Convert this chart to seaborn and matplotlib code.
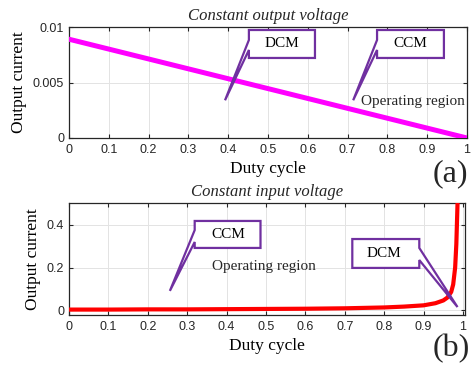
import numpy as np
import pandas as pd
import matplotlib
matplotlib.use("Agg")
import matplotlib.pyplot as plt
from matplotlib.patches import Polygon
import seaborn as sns

# ---------------- data ----------------
duty_a = [0.0, 1.0]
current_a = [0.0089, 0.0]

duty_b = [0.0, 0.1, 0.2, 0.3, 0.4, 0.5, 0.6, 0.7, 0.8, 0.85, 0.9, 0.93,
          0.95, 0.96, 0.97, 0.975, 0.98, 0.983, 0.986, 0.99]
current_b = [0.002, 0.002, 0.003, 0.003, 0.004, 0.005, 0.006, 0.008, 0.012,
             0.016, 0.022, 0.032, 0.045, 0.058, 0.085, 0.12, 0.2, 0.31, 0.5, 0.8]

x_ticks = [0, 0.1, 0.2, 0.3, 0.4, 0.5, 0.6, 0.7, 0.8, 0.9, 1]
x_ticklabels = ["0", "0.1", "0.2", "0.3", "0.4", "0.5", "0.6", "0.7", "0.8", "0.9", "1"]
ya_ticks = [0, 0.005, 0.01]
ya_ticklabels = ["0", "0.005", "0.01"]
yb_ticks = [0, 0.2, 0.4]
yb_ticklabels = ["0", "0.2", "0.4"]

# ---------------- style ----------------
sns.set_theme(style="ticks")
plt.rcParams["font.family"] = ["Liberation Sans", "DejaVu Sans"]
SERIF = ["Liberation Serif", "DejaVu Serif"]
TICKC = "#262626"
PURPLE = "#7030A0"

fig = plt.figure(figsize=(4.73, 3.65), dpi=100)
ax_a = fig.add_axes([69/473, 1-138/365, 398/473, 111/365])
ax_b = fig.add_axes([69/473, 1-315/365, 396/473, 112/365])

df_a = pd.DataFrame({"duty": duty_a, "current": current_a})
df_b = pd.DataFrame({"duty": duty_b, "current": current_b})
sns.lineplot(data=df_a, x="duty", y="current", ax=ax_a, color="#FF00FF",
             linewidth=3.6, zorder=3)
sns.lineplot(data=df_b, x="duty", y="current", ax=ax_b, color="#FF0000",
             linewidth=3.0, zorder=3)

def style_axes(ax, xlim, ylim, yt, ytl, title):
    ax.set_xlim(*xlim)
    ax.set_ylim(*ylim)
    ax.set_xticks(x_ticks)
    ax.set_xticklabels(x_ticklabels)
    ax.set_yticks(yt)
    ax.set_yticklabels(ytl)
    ax.grid(True, color="#e3e3e3", linewidth=0.7, zorder=0)
    ax.set_axisbelow(True)
    ax.tick_params(direction="in", length=3, width=0.8, top=True, right=True,
                   colors=TICKC, labelsize=9, labelcolor=TICKC)
    ax.tick_params(axis="x", pad=4.5)
    ax.tick_params(axis="y", pad=3.5)
    for s in ax.spines.values():
        s.set_visible(True)
        s.set_color(TICKC)
        s.set_linewidth(0.9)
    ax.set_xlabel("Duty cycle", family=SERIF, fontsize=12.5, color="black", labelpad=3.5)
    ax.set_ylabel("Output current", family=SERIF, fontsize=12.5, color="black", labelpad=4)
    ax.set_title(title, family=SERIF, style="italic", fontsize=12, pad=5)

style_axes(ax_a, (0, 1), (0, 0.01), ya_ticks, ya_ticklabels, "Constant output voltage")
style_axes(ax_b, (0, 1.005), (-0.0235, 0.5035), yb_ticks, yb_ticklabels, "Constant input voltage")

def callout(ax, x0, x1, y0, y1, side, wb_hi, wb_lo, tip, label, lx, ly):
    # box from x0..x1, y0(bottom)..y1(top); wedge base on given side between wb_hi and wb_lo
    if side == "left":
        verts = [(x0, y1), (x1, y1), (x1, y0), (x0, y0), (x0, wb_lo), tip, (x0, wb_hi)]
    else:
        verts = [(x0, y1), (x1, y1), (x1, wb_hi), tip, (x1, wb_lo), (x1, y0), (x0, y0)]
    poly = Polygon(verts, closed=True, facecolor="white", edgecolor=PURPLE,
                   linewidth=1.6, zorder=5, joinstyle="miter")
    ax.add_patch(poly)
    ax.text(lx, ly, label, family=SERIF, fontsize=11, ha="center", va="center",
            zorder=6, color="black")

callout(ax_a, 0.452, 0.618, 0.00721, 0.00973, "left", 0.00883, 0.00793,
        (0.392, 0.0034), "DCM", 0.535, 0.0085)
callout(ax_a, 0.774, 0.942, 0.00721, 0.00973, "left", 0.00883, 0.00793,
        (0.714, 0.0034), "CCM", 0.858, 0.0085)
ax_a.text(0.734, 0.0033, "Operating region", family=SERIF, fontsize=11,
          ha="left", va="center", zorder=6)

callout(ax_b, 0.319, 0.486, 0.292, 0.419, "left", 0.376, 0.320,
        (0.256, 0.09), "CCM", 0.405, 0.357)
callout(ax_b, 0.719, 0.889, 0.198, 0.334, "right", 0.292, 0.235,
        (0.986, 0.014), "DCM", 0.8, 0.268)
ax_b.text(0.362, 0.207, "Operating region", family=SERIF, fontsize=11,
          ha="left", va="center", zorder=6)

fig.text(450/473, 1-174/365, "(a)", family=SERIF, fontsize=23, ha="center", va="center")
fig.text(451/473, 1-349/365, "(b)", family=SERIF, fontsize=23, ha="center", va="center")

fig.savefig("out.png", dpi=100)
